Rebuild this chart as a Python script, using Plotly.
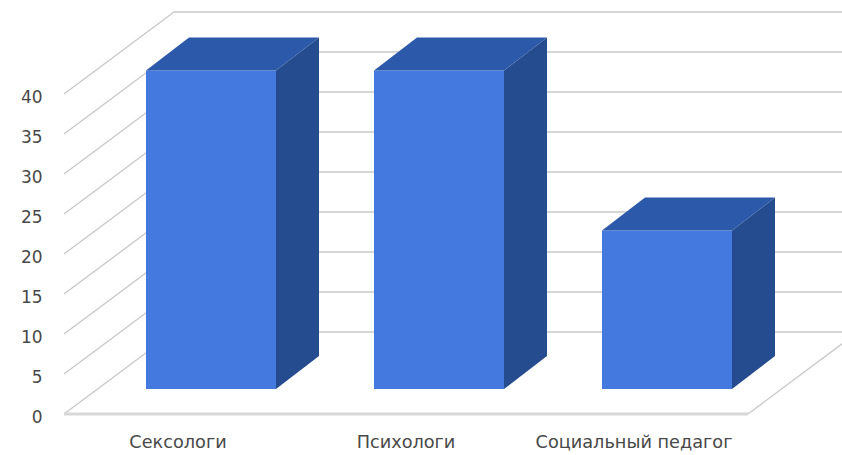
import plotly.graph_objects as go

categories = ["Сексологи", "Психологи", "Социальный педагог"]
values = [39.8, 39.8, 19.8]
y_ticks = [0, 5, 10, 15, 20, 25, 30, 35, 40]

# oblique-projection settings, in axis units
W, H, ML, MB = 842, 455, 60, 26
PX_PER_CAT, PX_PER_VAL = 228.0, 8.0
X0_PX, Y0_PX = 178.0, 414.0
WALL_DX, WALL_DY = 110 / PX_PER_CAT, 82 / PX_PER_VAL   # full chart depth
BAR_DX, BAR_DY = 33 / PX_PER_CAT, 25 / PX_PER_VAL      # bar front offset from the floor edge
DEP_DX, DEP_DY = 43 / PX_PER_CAT, 33 / PX_PER_VAL      # bar depth
BAR_W = 130 / PX_PER_CAT
FRONT_L, FRONT_R = -0.5, 2.5

FRONT, SIDE, TOP = "#447ADF", "#244C8E", "#2C59A9"
GRID = "#c8c8c8"

fig = go.Figure()

fig.add_trace(go.Bar(
    x=[i + BAR_DX for i in range(len(values))], y=values, base=BAR_DY,
    width=BAR_W, marker=dict(color=FRONT, line=dict(width=0)),
    hoverinfo="skip", showlegend=False,
))

for i, v in enumerate(values):
    l = i + BAR_DX - BAR_W / 2
    r = l + BAR_W
    b = BAR_DY
    t = BAR_DY + v
    fig.add_trace(go.Scatter(
        x=[r, r + DEP_DX, r + DEP_DX, r, r], y=[b, b + DEP_DY, t + DEP_DY, t, b],
        mode="lines", fill="toself", fillcolor=SIDE, line=dict(width=0),
        hoverinfo="skip", showlegend=False,
    ))
    fig.add_trace(go.Scatter(
        x=[l, r, r + DEP_DX, l + DEP_DX, l], y=[t, t, t + DEP_DY, t + DEP_DY, t],
        mode="lines", fill="toself", fillcolor=TOP, line=dict(width=0),
        hoverinfo="skip", showlegend=False,
    ))

shapes = []
def seg(x0, y0, x1, y1, width=1.3, color=GRID):
    shapes.append(dict(type="line", xref="x", yref="y", x0=x0, y0=y0, x1=x1, y1=y1,
                       layer="below", line=dict(color=color, width=width)))

for tv in y_ticks:
    seg(FRONT_L, tv, FRONT_L + WALL_DX, tv + WALL_DY)
    seg(FRONT_L + WALL_DX, tv + WALL_DY, FRONT_R + WALL_DX, tv + WALL_DY)
seg(FRONT_L, 0, FRONT_R, 0, width=3, color="#d8d8d8")
seg(FRONT_R, 0, FRONT_R + WALL_DX, WALL_DY)

font = dict(family="DejaVu Sans", size=17, color="#484848")
fig.update_layout(
    width=W, height=H, autosize=False,
    margin=dict(l=ML, r=0, t=0, b=MB, pad=0),
    paper_bgcolor="white", plot_bgcolor="white", showlegend=False,
    shapes=shapes, font=font,
    xaxis=dict(
        range=[(ML - X0_PX) / PX_PER_CAT, (W - X0_PX) / PX_PER_CAT],
        tickmode="array", tickvals=list(range(len(categories))), ticktext=categories,
        ticks="", tickangle=0,
        tickfont=dict(size=17.7), automargin=False,
        showgrid=False, zeroline=False, showline=False, fixedrange=True,
    ),
    yaxis=dict(
        range=[(Y0_PX - (H - MB)) / PX_PER_VAL, Y0_PX / PX_PER_VAL],
        tickmode="array", tickvals=y_ticks, ticktext=[str(t) for t in y_ticks],
        ticks="outside", ticklen=13, tickcolor="rgba(0,0,0,0)",
        ticklabelshift=3, automargin=False,
        showgrid=False, zeroline=False, showline=False, fixedrange=True,
    ),
)

fig.write_html("out.html", config=dict(displayModeBar=False),
               post_script="document.body.style.margin='0';document.body.style.overflow='hidden';")
